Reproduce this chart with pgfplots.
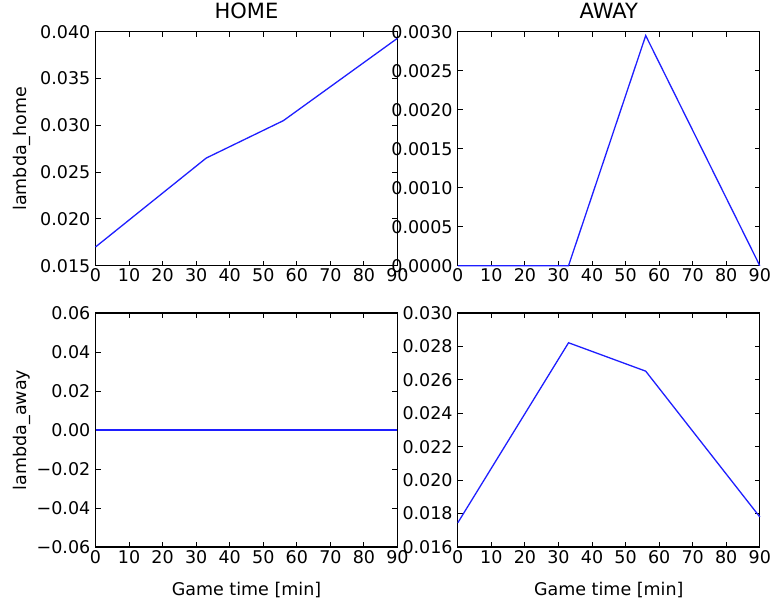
\documentclass[border=0pt]{standalone}
\usepackage{fontspec}
\setmainfont{DejaVu Sans}
\usepackage{pgfplots}
\pgfplotsset{compat=1.18}

\definecolor{lineblue}{RGB}{30,30,255}

\pgfplotsset{
  panel/.style={
    scale only axis, width=302bp, height=234bp,
    xmin=0, xmax=90, xtick={0,10,20,30,40,50,60,70,80,90},
    scaled ticks=false, clip=false,
    /pgf/number format/assume math mode=true,
    tick align=inside,
    major tick length=5bp,
    every tick/.style={black, line width=0.9bp},
    axis line style={black, line width=1.2bp},
    tick label style={font=\fontsize{17.5bp}{20bp}\selectfont, text=black},
    xticklabel style={anchor=north, inner sep=0pt, yshift=-3bp},
    yticklabel style={anchor=east, inner sep=0pt, xshift=-5bp},
    title style={at={(0.5,1)}, anchor=base, yshift=7.7bp, inner sep=0pt,
      font=\fontsize{21bp}{24bp}\selectfont},
    every axis y label/.style={at={(axis description cs:-0.245,0.5)}, rotate=90,
      anchor=center, inner sep=0pt,
      font=\fontsize{17.5bp}{20bp}\selectfont},
    every axis x label/.style={at={(axis description cs:0.5,0)},
      anchor=center, yshift=-43.5bp, inner sep=0pt,
      font=\fontsize{17.5bp}{20bp}\selectfont},
  },
  rate/.style={lineblue, line width=1.3bp, mark=none},
}

\begin{document}
\begin{tikzpicture}
\useasboundingbox (0,0) rectangle (772bp,603bp);

% home team, home rate
\begin{axis}[panel, at={(95.5bp,337.3bp)}, anchor=south west,
  title={HOME}, ylabel={lambda\_home},
  ymin=0.015, ymax=0.040,
  ytick={0.015,0.020,0.025,0.030,0.035,0.040},
  yticklabels={0.015,0.020,0.025,0.030,0.035,0.040}]
\addplot[rate] coordinates {(0,0.0170) (33,0.0265) (56,0.0305) (90,0.0393)};
\end{axis}

% away team, home rate
\begin{axis}[panel, at={(457.8bp,337.3bp)}, anchor=south west,
  title={AWAY},
  ymin=0, ymax=0.003,
  ytick={0,0.0005,0.001,0.0015,0.002,0.0025,0.003},
  yticklabels={0.0000,0.0005,0.0010,0.0015,0.0020,0.0025,0.0030}]
\addplot[rate] coordinates {(0,0) (33,0) (56,0.00295) (90,0)};
\end{axis}

% home team, away rate
\begin{axis}[panel, at={(95.5bp,56bp)}, anchor=south west,
  ylabel={lambda\_away}, xlabel={Game time [min]},
  ymin=-0.06, ymax=0.06,
  ytick={-0.06,-0.04,-0.02,0,0.02,0.04,0.06},
  yticklabels={−0.06,−0.04,−0.02,0.00,0.02,0.04,0.06}]
\addplot[rate] coordinates {(0,0) (33,0) (56,0) (90,0)};
\end{axis}

% away team, away rate
\begin{axis}[panel, at={(457.8bp,56bp)}, anchor=south west,
  xlabel={Game time [min]},
  ymin=0.016, ymax=0.030,
  ytick={0.016,0.018,0.020,0.022,0.024,0.026,0.028,0.030},
  yticklabels={0.016,0.018,0.020,0.022,0.024,0.026,0.028,0.030}]
\addplot[rate] coordinates {(0,0.01745) (33,0.02822) (56,0.02652) (90,0.0178)};
\end{axis}
\end{tikzpicture}
\end{document}
